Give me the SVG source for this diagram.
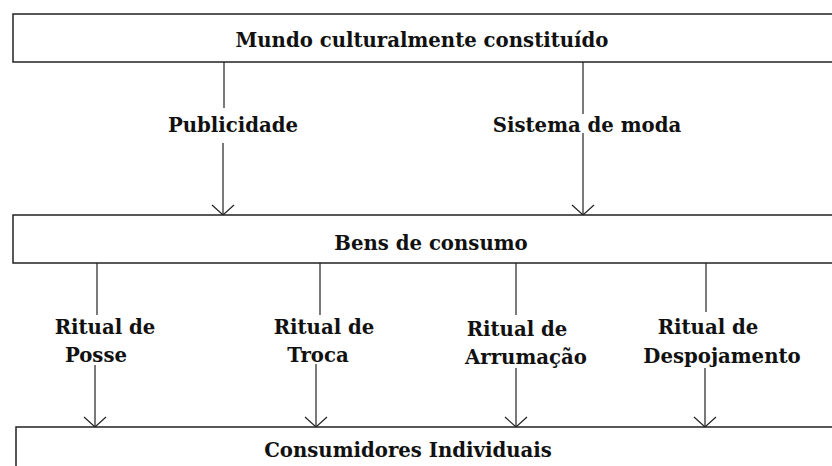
<svg xmlns="http://www.w3.org/2000/svg" width="832" height="466" viewBox="0 0 832 466">
<defs>
<style>
.box{fill:#fff;stroke:#222;stroke-width:1.5}
.ln{stroke:#222;stroke-width:1.2;fill:none}
.arr{stroke:#222;stroke-width:1.2;fill:none;marker-end:url(#v)}
text{font-family:"DejaVu Serif","Liberation Serif",serif;font-weight:bold;font-size:19.7px;fill:#111;text-anchor:middle}
</style>
<marker id="v" markerUnits="userSpaceOnUse" orient="auto" markerWidth="24" markerHeight="24" refX="0" refY="0" viewBox="-12 -12 24 24" overflow="visible">
<path d="M-10,-11 L0,0 L-10,11" fill="none" stroke="#222" stroke-width="1.2"/>
</marker>
</defs>
<rect width="832" height="466" fill="#fff"/>
<g id="connectors">
<line class="ln" x1="224" y1="62" x2="224" y2="108"/>
<line class="arr" x1="223" y1="143" x2="223" y2="215"/>
<line class="ln" x1="583" y1="62" x2="583" y2="114"/>
<line class="arr" x1="583" y1="133" x2="583" y2="215"/>
<line class="ln" x1="97" y1="263" x2="97" y2="315"/>
<line class="arr" x1="95" y1="365" x2="95" y2="427"/>
<line class="ln" x1="320" y1="263" x2="320" y2="315"/>
<line class="arr" x1="316" y1="364" x2="316" y2="427"/>
<line class="ln" x1="516" y1="263" x2="516" y2="315"/>
<line class="arr" x1="516" y1="368" x2="516" y2="427"/>
<line class="ln" x1="706" y1="263" x2="706" y2="312"/>
<line class="arr" x1="705" y1="368" x2="705" y2="427"/>
</g>
<g id="mundo">
<rect class="box" x="13" y="14" width="840" height="48"/>
<text x="422" y="47">Mundo culturalmente constituído</text>
</g>
<g id="publicidade">
<text x="233" y="132">Publicidade</text>
</g>
<g id="sistema-moda">
<text x="587" y="132">Sistema de moda</text>
</g>
<g id="bens">
<rect class="box" x="13" y="215" width="840" height="48"/>
<text x="431" y="250">Bens de consumo</text>
</g>
<g id="ritual-posse">
<text x="105" y="334">Ritual de</text>
<text x="96" y="362">Posse</text>
</g>
<g id="ritual-troca">
<text x="324" y="334">Ritual de</text>
<text x="318" y="362">Troca</text>
</g>
<g id="ritual-arrumacao">
<text x="517" y="336">Ritual de</text>
<text x="526" y="364">Arrumação</text>
</g>
<g id="ritual-despojamento">
<text x="708" y="334">Ritual de</text>
<text x="722" y="363">Despojamento</text>
</g>
<g id="consumidores">
<rect class="box" x="16" y="427" width="840" height="60"/>
<text x="408" y="457">Consumidores Individuais</text>
</g>
</svg>
